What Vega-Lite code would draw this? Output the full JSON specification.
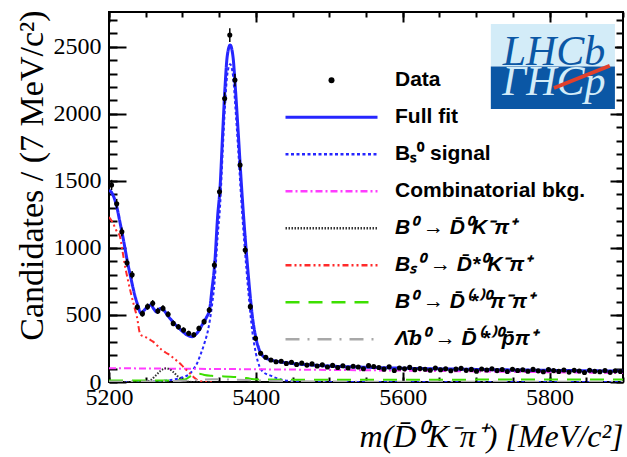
{
 "$schema": "https://vega.github.io/schema/vega-lite/v6.json",
 "width": 514,
 "height": 370,
 "autosize": {"type": "none"},
 "padding": {"left": 109, "top": 12, "right": 4, "bottom": 75},
 "background": "white",
 "config": {
  "view": {"stroke": "#000", "strokeWidth": 2},
  "axis": {"domain": false, "grid": false, "tickColor": "#000", "tickWidth": 2, "labelColor": "#000", "labelFont": "Liberation Serif", "labelFontSize": 24, "titleColor": "#000", "labelFlush": false, "labelOverlap": false, "zindex": 1}
 },
 "resolve": {"axis": {"x": "independent", "y": "independent"}},
 "datasets": {
  "pts": [
   {"m":5203.5,"n":1470,"e":38},{"m":5210.5,"n":1330,"e":36},{"m":5217.5,"n":1120,"e":33},{"m":5224.5,"n":890,"e":30},{"m":5231.5,"n":800,"e":28},
   {"m":5238.5,"n":560,"e":24},{"m":5245.5,"n":510,"e":23},{"m":5252.5,"n":562,"e":24},{"m":5259.5,"n":587,"e":24},{"m":5266.5,"n":530,"e":23},
   {"m":5273.5,"n":549,"e":23},{"m":5280.5,"n":505,"e":22},{"m":5287.5,"n":437,"e":21},{"m":5294.5,"n":412,"e":20},{"m":5301.5,"n":388,"e":20},
   {"m":5308.5,"n":363,"e":19},{"m":5315.5,"n":352,"e":19},{"m":5322.5,"n":400,"e":20},{"m":5329.5,"n":450,"e":21},{"m":5336.5,"n":537,"e":23},
   {"m":5343.5,"n":872,"e":30},{"m":5350.5,"n":1419,"e":38},{"m":5357.5,"n":2115,"e":46},{"m":5364.5,"n":2588,"e":51},{"m":5371.5,"n":2252,"e":47},
   {"m":5378.5,"n":1618,"e":40},{"m":5385.5,"n":984,"e":31},{"m":5392.5,"n":562,"e":24},{"m":5399.5,"n":326,"e":18},{"m":5406.5,"n":214,"e":15},
   {"m":5413.5,"n":185,"e":14},{"m":5420.5,"n":164,"e":13},{"m":5427.5,"n":151,"e":12},{"m":5434.5,"n":155,"e":12},{"m":5441.5,"n":138,"e":12},
   {"m":5448.5,"n":147,"e":12},{"m":5455.5,"n":130,"e":11},{"m":5462.5,"n":141,"e":12},{"m":5469.5,"n":126,"e":11},{"m":5476.5,"n":135,"e":12},
   {"m":5483.5,"n":119,"e":11},{"m":5490.5,"n":128,"e":11},{"m":5497.5,"n":112,"e":11},{"m":5504.5,"n":124,"e":11},{"m":5511.5,"n":108,"e":10},
   {"m":5518.5,"n":121,"e":11},{"m":5525.5,"n":104,"e":10},{"m":5532.5,"n":118,"e":11},{"m":5539.5,"n":112,"e":11},{"m":5546.5,"n":99,"e":10},
   {"m":5553.5,"n":122,"e":11},{"m":5560.5,"n":115,"e":11},{"m":5567.5,"n":108,"e":10},{"m":5574.5,"n":96,"e":10},{"m":5581.5,"n":113,"e":11},
   {"m":5588.5,"n":86,"e":9},{"m":5595.5,"n":104,"e":10},{"m":5602.5,"n":98,"e":10},{"m":5609.5,"n":109,"e":10},{"m":5616.5,"n":92,"e":10},
   {"m":5623.5,"n":101,"e":10},{"m":5630.5,"n":95,"e":10},{"m":5637.5,"n":88,"e":9},{"m":5644.5,"n":104,"e":10},{"m":5651.5,"n":91,"e":10},
   {"m":5658.5,"n":99,"e":10},{"m":5665.5,"n":84,"e":9},{"m":5672.5,"n":96,"e":10},{"m":5679.5,"n":102,"e":10},{"m":5686.5,"n":87,"e":9},
   {"m":5693.5,"n":94,"e":10},{"m":5700.5,"n":81,"e":9},{"m":5707.5,"n":97,"e":10},{"m":5714.5,"n":90,"e":9},{"m":5721.5,"n":99,"e":10},
   {"m":5728.5,"n":85,"e":9},{"m":5735.5,"n":93,"e":10},{"m":5742.5,"n":78,"e":9},{"m":5749.5,"n":95,"e":10},{"m":5756.5,"n":86,"e":9},
   {"m":5763.5,"n":91,"e":10},{"m":5770.5,"n":80,"e":9},{"m":5777.5,"n":94,"e":10},{"m":5784.5,"n":83,"e":9},{"m":5791.5,"n":76,"e":9},
   {"m":5798.5,"n":92,"e":10},{"m":5805.5,"n":85,"e":9},{"m":5812.5,"n":79,"e":9},{"m":5819.5,"n":90,"e":9},{"m":5826.5,"n":74,"e":9},
   {"m":5833.5,"n":87,"e":9},{"m":5840.5,"n":82,"e":9},{"m":5847.5,"n":71,"e":8},{"m":5854.5,"n":88,"e":9},{"m":5861.5,"n":80,"e":9},
   {"m":5868.5,"n":76,"e":9},{"m":5875.5,"n":85,"e":9},{"m":5882.5,"n":72,"e":8},{"m":5889.5,"n":83,"e":9},{"m":5896.5,"n":78,"e":9}
  ],
  "curves": [
   {"c":"Full fit","m":5200,"n":1430},{"c":"Full fit","m":5204,"n":1410},{"c":"Full fit","m":5210,"n":1320},{"c":"Full fit","m":5215,"n":1190},{"c":"Full fit","m":5220,"n":1050},
   {"c":"Full fit","m":5225,"n":900},{"c":"Full fit","m":5230,"n":770},{"c":"Full fit","m":5235,"n":650},{"c":"Full fit","m":5240,"n":560},{"c":"Full fit","m":5243,"n":515},
   {"c":"Full fit","m":5247,"n":530},{"c":"Full fit","m":5252,"n":560},{"c":"Full fit","m":5257,"n":575},{"c":"Full fit","m":5261,"n":545},{"c":"Full fit","m":5265,"n":522},
   {"c":"Full fit","m":5270,"n":548},{"c":"Full fit","m":5274,"n":540},{"c":"Full fit","m":5280,"n":495},{"c":"Full fit","m":5285,"n":462},{"c":"Full fit","m":5290,"n":430},
   {"c":"Full fit","m":5295,"n":402},{"c":"Full fit","m":5300,"n":378},{"c":"Full fit","m":5305,"n":355},{"c":"Full fit","m":5310,"n":341},{"c":"Full fit","m":5313,"n":338},
   {"c":"Full fit","m":5317,"n":350},{"c":"Full fit","m":5322,"n":380},{"c":"Full fit","m":5328,"n":437},{"c":"Full fit","m":5333,"n":485},{"c":"Full fit","m":5337,"n":540},
   {"c":"Full fit","m":5340,"n":680},{"c":"Full fit","m":5344,"n":885},{"c":"Full fit","m":5348,"n":1240},{"c":"Full fit","m":5351,"n":1430},{"c":"Full fit","m":5355,"n":1880},
   {"c":"Full fit","m":5358,"n":2200},{"c":"Full fit","m":5361,"n":2430},{"c":"Full fit","m":5365,"n":2513},{"c":"Full fit","m":5369,"n":2420},{"c":"Full fit","m":5372,"n":2200},
   {"c":"Full fit","m":5376,"n":1860},{"c":"Full fit","m":5380,"n":1500},{"c":"Full fit","m":5385,"n":1110},{"c":"Full fit","m":5390,"n":780},{"c":"Full fit","m":5395,"n":500},
   {"c":"Full fit","m":5400,"n":330},{"c":"Full fit","m":5405,"n":235},{"c":"Full fit","m":5410,"n":192},{"c":"Full fit","m":5420,"n":165},{"c":"Full fit","m":5430,"n":153},
   {"c":"Full fit","m":5440,"n":145},{"c":"Full fit","m":5450,"n":138},{"c":"Full fit","m":5475,"n":127},{"c":"Full fit","m":5500,"n":119},{"c":"Full fit","m":5550,"n":110},
   {"c":"Full fit","m":5600,"n":103},{"c":"Full fit","m":5650,"n":98},{"c":"Full fit","m":5700,"n":94},{"c":"Full fit","m":5750,"n":90},{"c":"Full fit","m":5800,"n":87},
   {"c":"Full fit","m":5850,"n":84},{"c":"Full fit","m":5900,"n":81},

   {"c":"Bₛ⁰ signal","m":5200,"n":0},{"c":"Bₛ⁰ signal","m":5240,"n":0},{"c":"Bₛ⁰ signal","m":5260,"n":3},{"c":"Bₛ⁰ signal","m":5280,"n":12},{"c":"Bₛ⁰ signal","m":5290,"n":20},
   {"c":"Bₛ⁰ signal","m":5300,"n":35},{"c":"Bₛ⁰ signal","m":5310,"n":62},{"c":"Bₛ⁰ signal","m":5315,"n":95},{"c":"Bₛ⁰ signal","m":5320,"n":140},{"c":"Bₛ⁰ signal","m":5325,"n":210},
   {"c":"Bₛ⁰ signal","m":5330,"n":290},{"c":"Bₛ⁰ signal","m":5335,"n":390},{"c":"Bₛ⁰ signal","m":5340,"n":560},{"c":"Bₛ⁰ signal","m":5344,"n":760},{"c":"Bₛ⁰ signal","m":5348,"n":1090},
   {"c":"Bₛ⁰ signal","m":5351,"n":1290},{"c":"Bₛ⁰ signal","m":5355,"n":1740},{"c":"Bₛ⁰ signal","m":5358,"n":2060},{"c":"Bₛ⁰ signal","m":5361,"n":2290},{"c":"Bₛ⁰ signal","m":5365,"n":2370},
   {"c":"Bₛ⁰ signal","m":5369,"n":2280},{"c":"Bₛ⁰ signal","m":5372,"n":2060},{"c":"Bₛ⁰ signal","m":5376,"n":1730},{"c":"Bₛ⁰ signal","m":5380,"n":1370},{"c":"Bₛ⁰ signal","m":5385,"n":990},
   {"c":"Bₛ⁰ signal","m":5390,"n":660},{"c":"Bₛ⁰ signal","m":5395,"n":385},{"c":"Bₛ⁰ signal","m":5400,"n":215},{"c":"Bₛ⁰ signal","m":5405,"n":115},{"c":"Bₛ⁰ signal","m":5410,"n":75},
   {"c":"Bₛ⁰ signal","m":5420,"n":48},{"c":"Bₛ⁰ signal","m":5430,"n":25},{"c":"Bₛ⁰ signal","m":5440,"n":12},{"c":"Bₛ⁰ signal","m":5455,"n":4},{"c":"Bₛ⁰ signal","m":5480,"n":0},
   {"c":"Bₛ⁰ signal","m":5900,"n":0},

   {"c":"Combinatorial bkg.","m":5200,"n":103},{"c":"Combinatorial bkg.","m":5300,"n":99},{"c":"Combinatorial bkg.","m":5400,"n":95},{"c":"Combinatorial bkg.","m":5500,"n":90},
   {"c":"Combinatorial bkg.","m":5600,"n":85},{"c":"Combinatorial bkg.","m":5700,"n":79},{"c":"Combinatorial bkg.","m":5800,"n":73},{"c":"Combinatorial bkg.","m":5900,"n":67},

   {"c":"B⁰ → D̄⁰K⁻π⁺","m":5200,"n":0},{"c":"B⁰ → D̄⁰K⁻π⁺","m":5240,"n":0},{"c":"B⁰ → D̄⁰K⁻π⁺","m":5250,"n":4},{"c":"B⁰ → D̄⁰K⁻π⁺","m":5257,"n":15},
   {"c":"B⁰ → D̄⁰K⁻π⁺","m":5263,"n":45},{"c":"B⁰ → D̄⁰K⁻π⁺","m":5270,"n":82},{"c":"B⁰ → D̄⁰K⁻π⁺","m":5278,"n":102},{"c":"B⁰ → D̄⁰K⁻π⁺","m":5286,"n":82},
   {"c":"B⁰ → D̄⁰K⁻π⁺","m":5293,"n":45},{"c":"B⁰ → D̄⁰K⁻π⁺","m":5300,"n":15},{"c":"B⁰ → D̄⁰K⁻π⁺","m":5307,"n":4},{"c":"B⁰ → D̄⁰K⁻π⁺","m":5315,"n":0},{"c":"B⁰ → D̄⁰K⁻π⁺","m":5340,"n":0},

   {"c":"Bₛ⁰ → D̄*⁰K⁻π⁺","m":5200,"n":1230},{"c":"Bₛ⁰ → D̄*⁰K⁻π⁺","m":5205,"n":1190},{"c":"Bₛ⁰ → D̄*⁰K⁻π⁺","m":5210,"n":1130},{"c":"Bₛ⁰ → D̄*⁰K⁻π⁺","m":5215,"n":1084},
   {"c":"Bₛ⁰ → D̄*⁰K⁻π⁺","m":5218,"n":990},{"c":"Bₛ⁰ → D̄*⁰K⁻π⁺","m":5222,"n":860},{"c":"Bₛ⁰ → D̄*⁰K⁻π⁺","m":5226,"n":755},{"c":"Bₛ⁰ → D̄*⁰K⁻π⁺","m":5231,"n":636},
   {"c":"Bₛ⁰ → D̄*⁰K⁻π⁺","m":5235,"n":550},{"c":"Bₛ⁰ → D̄*⁰K⁻π⁺","m":5238,"n":487},{"c":"Bₛ⁰ → D̄*⁰K⁻π⁺","m":5242,"n":365},{"c":"Bₛ⁰ → D̄*⁰K⁻π⁺","m":5245,"n":345},
   {"c":"Bₛ⁰ → D̄*⁰K⁻π⁺","m":5249,"n":338},{"c":"Bₛ⁰ → D̄*⁰K⁻π⁺","m":5255,"n":318},{"c":"Bₛ⁰ → D̄*⁰K⁻π⁺","m":5260,"n":301},{"c":"Bₛ⁰ → D̄*⁰K⁻π⁺","m":5266,"n":270},
   {"c":"Bₛ⁰ → D̄*⁰K⁻π⁺","m":5272,"n":239},{"c":"Bₛ⁰ → D̄*⁰K⁻π⁺","m":5277,"n":220},{"c":"Bₛ⁰ → D̄*⁰K⁻π⁺","m":5283,"n":201},{"c":"Bₛ⁰ → D̄*⁰K⁻π⁺","m":5288,"n":178},
   {"c":"Bₛ⁰ → D̄*⁰K⁻π⁺","m":5294,"n":151},{"c":"Bₛ⁰ → D̄*⁰K⁻π⁺","m":5299,"n":126},{"c":"Bₛ⁰ → D̄*⁰K⁻π⁺","m":5303,"n":102},{"c":"Bₛ⁰ → D̄*⁰K⁻π⁺","m":5307,"n":82},
   {"c":"Bₛ⁰ → D̄*⁰K⁻π⁺","m":5310,"n":65},{"c":"Bₛ⁰ → D̄*⁰K⁻π⁺","m":5315,"n":38},{"c":"Bₛ⁰ → D̄*⁰K⁻π⁺","m":5320,"n":16},{"c":"Bₛ⁰ → D̄*⁰K⁻π⁺","m":5325,"n":6},
   {"c":"Bₛ⁰ → D̄*⁰K⁻π⁺","m":5330,"n":1},{"c":"Bₛ⁰ → D̄*⁰K⁻π⁺","m":5340,"n":0},

   {"c":"B⁰ → D̄⁽*⁾⁰π⁻π⁺","m":5200,"n":12},{"c":"B⁰ → D̄⁽*⁾⁰π⁻π⁺","m":5290,"n":12},{"c":"B⁰ → D̄⁽*⁾⁰π⁻π⁺","m":5303,"n":18},{"c":"B⁰ → D̄⁽*⁾⁰π⁻π⁺","m":5310,"n":40},
   {"c":"B⁰ → D̄⁽*⁾⁰π⁻π⁺","m":5316,"n":60},{"c":"B⁰ → D̄⁽*⁾⁰π⁻π⁺","m":5323,"n":62},{"c":"B⁰ → D̄⁽*⁾⁰π⁻π⁺","m":5330,"n":52},{"c":"B⁰ → D̄⁽*⁾⁰π⁻π⁺","m":5340,"n":46},
   {"c":"B⁰ → D̄⁽*⁾⁰π⁻π⁺","m":5350,"n":43},{"c":"B⁰ → D̄⁽*⁾⁰π⁻π⁺","m":5365,"n":40},{"c":"B⁰ → D̄⁽*⁾⁰π⁻π⁺","m":5380,"n":34},{"c":"B⁰ → D̄⁽*⁾⁰π⁻π⁺","m":5392,"n":25},
   {"c":"B⁰ → D̄⁽*⁾⁰π⁻π⁺","m":5400,"n":20},{"c":"B⁰ → D̄⁽*⁾⁰π⁻π⁺","m":5450,"n":17},{"c":"B⁰ → D̄⁽*⁾⁰π⁻π⁺","m":5600,"n":17},{"c":"B⁰ → D̄⁽*⁾⁰π⁻π⁺","m":5750,"n":18},
   {"c":"B⁰ → D̄⁽*⁾⁰π⁻π⁺","m":5900,"n":18},

   {"c":"Λ̄b⁰ → D̄⁽*⁾⁰p̄π⁺","m":5200,"n":3},{"c":"Λ̄b⁰ → D̄⁽*⁾⁰p̄π⁺","m":5280,"n":5},{"c":"Λ̄b⁰ → D̄⁽*⁾⁰p̄π⁺","m":5310,"n":12},{"c":"Λ̄b⁰ → D̄⁽*⁾⁰p̄π⁺","m":5340,"n":20},
   {"c":"Λ̄b⁰ → D̄⁽*⁾⁰p̄π⁺","m":5370,"n":18},{"c":"Λ̄b⁰ → D̄⁽*⁾⁰p̄π⁺","m":5400,"n":12},{"c":"Λ̄b⁰ → D̄⁽*⁾⁰p̄π⁺","m":5450,"n":6},{"c":"Λ̄b⁰ → D̄⁽*⁾⁰p̄π⁺","m":5500,"n":3},
   {"c":"Λ̄b⁰ → D̄⁽*⁾⁰p̄π⁺","m":5900,"n":1}
  ],
  "logo": [{}]
 },
 "layer": [
  {
   "data": {"name": "curves"},
   "transform": [{"filter": "datum.c !== 'Full fit'"}],
   "mark": {"type": "line", "interpolate": "monotone", "strokeWidth": 2, "clip": true},
   "encoding": {
    "x": {"field": "m", "type": "quantitative", "scale": {"domain": [5200, 5900], "nice": false, "zero": false},
          "axis": {"orient": "bottom", "values": [5200, 5400, 5600, 5800], "ticks": false, "labelPadding": 3, "format": "d",
                   "title": "m(D̄⁰K⁻π⁺) [MeV/c²]", "titleFont": "Liberation Serif", "titleFontSize": 32, "titleFontWeight": "normal", "titleFontStyle": "italic",
                   "titleAlign": "right", "titleBaseline": "alphabetic", "titleAnchor": "end", "titleX": 514, "titleY": 64}},
    "y": {"field": "n", "type": "quantitative", "scale": {"domain": [0, 2760], "nice": false},
          "axis": {"orient": "left", "values": [0, 500, 1000, 1500, 2000, 2500], "ticks": false, "labelPadding": 8, "format": "d",
                   "title": "Candidates / (7 MeV/c²)", "titleFont": "Liberation Serif", "titleFontSize": 34, "titleFontWeight": "normal",
                   "titleAngle": -90, "titleAlign": "right", "titleBaseline": "alphabetic", "titleX": -67, "titleY": -2}},
    "color": {"field": "c", "type": "nominal",
              "scale": {"domain": ["Data", "Full fit", "Bₛ⁰ signal", "Combinatorial bkg.", "B⁰ → D̄⁰K⁻π⁺", "Bₛ⁰ → D̄*⁰K⁻π⁺", "B⁰ → D̄⁽*⁾⁰π⁻π⁺", "Λ̄b⁰ → D̄⁽*⁾⁰p̄π⁺"],
                        "range": ["#000000", "#2626ff", "#2626ff", "#ff3cff", "#333333", "#ff2a2a", "#3ddf00", "#a8a8a8"]},
              "legend": {"title": null, "orient": "none", "legendX": 176, "legendY": 50, "padding": 0, "symbolType": "stroke", "symbolSize": 8464, "symbolStrokeWidth": 2.5, "symbolOffset": 36,
                         "clipHeight": 36.7, "rowPadding": 0, "labelOffset": 53, "labelLimit": 400, "labelFont": "Liberation Sans", "labelFontSize": 21, "labelFontWeight": "bold", "labelColor": "#000",
                         "encode": {"symbols": {"update": {"strokeDashOffset": {"signal": "datum.value === 'Data' ? -46 : 0"}, "strokeWidth": {"signal": "datum.value === 'Data' ? 6 : (datum.value === 'Full fit' ? 3 : 2.5)"}, "strokeCap": {"signal": "datum.value === 'Data' ? 'round' : 'butt'"}}},
                                    "labels": {"update": {"fontStyle": {"signal": "datum.index >= 4 ? 'italic' : 'normal'"}}}}}},
    "strokeDash": {"field": "c", "type": "nominal",
              "scale": {"domain": ["Data", "Full fit", "Bₛ⁰ signal", "Combinatorial bkg.", "B⁰ → D̄⁰K⁻π⁺", "Bₛ⁰ → D̄*⁰K⁻π⁺", "B⁰ → D̄⁽*⁾⁰π⁻π⁺", "Λ̄b⁰ → D̄⁽*⁾⁰p̄π⁺"],
                        "range": [[0, 1000], [1, 0], [3, 2.5], [7, 3, 2, 3], [1.5, 1.5], [6, 3, 2, 3, 2, 3], [14, 9], [14, 8, 2, 8]]},
              "legend": {"title": null, "orient": "none", "legendX": 176, "legendY": 50, "padding": 0, "symbolType": "stroke", "symbolSize": 8464, "symbolStrokeWidth": 2.5, "symbolOffset": 36,
                         "clipHeight": 36.7, "rowPadding": 0, "labelOffset": 53, "labelLimit": 400, "labelFont": "Liberation Sans", "labelFontSize": 21, "labelFontWeight": "bold", "labelColor": "#000",
                         "encode": {"symbols": {"update": {"strokeDashOffset": {"signal": "datum.value === 'Data' ? -46 : 0"}, "strokeWidth": {"signal": "datum.value === 'Data' ? 6 : (datum.value === 'Full fit' ? 3 : 2.5)"}, "strokeCap": {"signal": "datum.value === 'Data' ? 'round' : 'butt'"}}},
                                    "labels": {"update": {"fontStyle": {"signal": "datum.index >= 4 ? 'italic' : 'normal'"}}}}}}
   }
  },
  {
   "data": {"name": "curves"},
   "transform": [{"filter": "datum.c === 'Full fit'"}],
   "mark": {"type": "line", "interpolate": "monotone", "strokeWidth": 3, "clip": true},
   "encoding": {
    "x": {"field": "m", "type": "quantitative", "scale": {"domain": [5200, 5900], "nice": false, "zero": false},
          "axis": {"orient": "bottom", "values": [5200, 5400, 5600, 5800], "labels": false, "tickSize": -10, "title": null}},
    "y": {"field": "n", "type": "quantitative", "scale": {"domain": [0, 2760], "nice": false},
          "axis": {"orient": "left", "values": [0, 500, 1000, 1500, 2000, 2500], "labels": false, "tickSize": -17, "title": null}},
    "color": {"field": "c", "type": "nominal",
              "scale": {"domain": ["Data", "Full fit", "Bₛ⁰ signal", "Combinatorial bkg.", "B⁰ → D̄⁰K⁻π⁺", "Bₛ⁰ → D̄*⁰K⁻π⁺", "B⁰ → D̄⁽*⁾⁰π⁻π⁺", "Λ̄b⁰ → D̄⁽*⁾⁰p̄π⁺"],
                        "range": ["#000000", "#2626ff", "#2626ff", "#ff3cff", "#333333", "#ff2a2a", "#3ddf00", "#a8a8a8"]},
              "legend": {"title": null, "orient": "none", "legendX": 176, "legendY": 50, "padding": 0, "symbolType": "stroke", "symbolSize": 8464, "symbolStrokeWidth": 2.5, "symbolOffset": 36,
                         "clipHeight": 36.7, "rowPadding": 0, "labelOffset": 53, "labelLimit": 400, "labelFont": "Liberation Sans", "labelFontSize": 21, "labelFontWeight": "bold", "labelColor": "#000",
                         "encode": {"symbols": {"update": {"strokeDashOffset": {"signal": "datum.value === 'Data' ? -46 : 0"}, "strokeWidth": {"signal": "datum.value === 'Data' ? 6 : (datum.value === 'Full fit' ? 3 : 2.5)"}, "strokeCap": {"signal": "datum.value === 'Data' ? 'round' : 'butt'"}}},
                                    "labels": {"update": {"fontStyle": {"signal": "datum.index >= 4 ? 'italic' : 'normal'"}}}}}},
    "strokeDash": {"field": "c", "type": "nominal",
              "scale": {"domain": ["Data", "Full fit", "Bₛ⁰ signal", "Combinatorial bkg.", "B⁰ → D̄⁰K⁻π⁺", "Bₛ⁰ → D̄*⁰K⁻π⁺", "B⁰ → D̄⁽*⁾⁰π⁻π⁺", "Λ̄b⁰ → D̄⁽*⁾⁰p̄π⁺"],
                        "range": [[0, 1000], [1, 0], [3, 2.5], [7, 3, 2, 3], [1.5, 1.5], [6, 3, 2, 3, 2, 3], [14, 9], [14, 8, 2, 8]]},
              "legend": {"title": null, "orient": "none", "legendX": 176, "legendY": 50, "padding": 0, "symbolType": "stroke", "symbolSize": 8464, "symbolStrokeWidth": 2.5, "symbolOffset": 36,
                         "clipHeight": 36.7, "rowPadding": 0, "labelOffset": 53, "labelLimit": 400, "labelFont": "Liberation Sans", "labelFontSize": 21, "labelFontWeight": "bold", "labelColor": "#000",
                         "encode": {"symbols": {"update": {"strokeDashOffset": {"signal": "datum.value === 'Data' ? -46 : 0"}, "strokeWidth": {"signal": "datum.value === 'Data' ? 6 : (datum.value === 'Full fit' ? 3 : 2.5)"}, "strokeCap": {"signal": "datum.value === 'Data' ? 'round' : 'butt'"}}},
                                    "labels": {"update": {"fontStyle": {"signal": "datum.index >= 4 ? 'italic' : 'normal'"}}}}}}
   }
  },
  {
   "data": {"name": "pts"},
   "mark": {"type": "errorbar", "color": "#000", "thickness": 1.5},
   "encoding": {
    "x": {"field": "m", "type": "quantitative", "scale": {"domain": [5200, 5900], "nice": false, "zero": false}, "axis": null},
    "y": {"field": "n", "type": "quantitative", "scale": {"domain": [0, 2760], "nice": false}, "axis": null},
    "yError": {"field": "e"}
   }
  },
  {
   "data": {"name": "pts"},
   "mark": {"type": "circle", "size": 26, "color": "#000", "opacity": 1},
   "encoding": {
    "x": {"field": "m", "type": "quantitative", "scale": {"domain": [5200, 5900], "nice": false, "zero": false},
          "axis": {"orient": "bottom", "values": [5200, 5250, 5300, 5350, 5400, 5450, 5500, 5550, 5600, 5650, 5700, 5750, 5800, 5850, 5900], "labels": false, "tickSize": -5, "title": null}},
    "y": {"field": "n", "type": "quantitative", "scale": {"domain": [0, 2760], "nice": false},
          "axis": {"orient": "left", "values": [0, 100, 200, 300, 400, 500, 600, 700, 800, 900, 1000, 1100, 1200, 1300, 1400, 1500, 1600, 1700, 1800, 1900, 2000, 2100, 2200, 2300, 2400, 2500, 2600, 2700], "labels": false, "tickSize": -8, "title": null}}
   }
  },
  {
   "data": {"name": "logo"},
   "mark": {"type": "rect", "color": "#d3ecf8"},
   "encoding": {
    "x": {"datum": 5720, "type": "quantitative", "scale": {"domain": [5200, 5900], "nice": false, "zero": false},
          "axis": {"orient": "top", "values": [5200, 5400, 5600, 5800], "labels": false, "tickSize": -10, "title": null}},
    "x2": {"datum": 5889},
    "y": {"datum": 2670, "type": "quantitative", "scale": {"domain": [0, 2760], "nice": false},
          "axis": {"orient": "right", "values": [0, 500, 1000, 1500, 2000, 2500], "labels": false, "tickSize": -13, "title": null}},
    "y2": {"datum": 2353}
   }
  },
  {
   "data": {"name": "logo"},
   "mark": {"type": "rect", "color": "#0b57a5"},
   "encoding": {
    "x": {"datum": 5720, "type": "quantitative", "scale": {"domain": [5200, 5900], "nice": false, "zero": false},
          "axis": {"orient": "top", "values": [5200, 5250, 5300, 5350, 5400, 5450, 5500, 5550, 5600, 5650, 5700, 5750, 5800, 5850, 5900], "labels": false, "tickSize": -5, "title": null}},
    "x2": {"datum": 5889},
    "y": {"datum": 2353, "type": "quantitative", "scale": {"domain": [0, 2760], "nice": false},
          "axis": {"orient": "right", "values": [0, 100, 200, 300, 400, 500, 600, 700, 800, 900, 1000, 1100, 1200, 1300, 1400, 1500, 1600, 1700, 1800, 1900, 2000, 2100, 2200, 2300, 2400, 2500, 2600, 2700], "labels": false, "tickSize": -7, "title": null}},
    "y2": {"datum": 2036}
   }
  },
  {
   "data": {"name": "logo"},
   "mark": {"type": "text", "text": "LHCb", "font": "Liberation Serif", "fontStyle": "italic", "fontSize": 42, "color": "#0b57a5", "align": "center", "baseline": "alphabetic"},
   "encoding": {
    "x": {"datum": 5806, "type": "quantitative", "scale": {"domain": [5200, 5900], "nice": false, "zero": false}, "axis": null},
    "y": {"datum": 2362, "type": "quantitative", "scale": {"domain": [0, 2760], "nice": false}, "axis": null}
   }
  },
  {
   "data": {"name": "logo"},
   "mark": {"type": "text", "text": "ΓHCp", "font": "Liberation Serif", "fontStyle": "italic", "fontSize": 42, "color": "#d3ecf8", "align": "center", "baseline": "alphabetic"},
   "encoding": {
    "x": {"datum": 5806, "type": "quantitative", "scale": {"domain": [5200, 5900], "nice": false, "zero": false}, "axis": null},
    "y": {"datum": 2140, "type": "quantitative", "scale": {"domain": [0, 2760], "nice": false}, "axis": null}
   }
  },
  {
   "data": {"name": "logo"},
   "mark": {"type": "rule", "color": "#e2402c", "strokeWidth": 4},
   "encoding": {
    "x": {"datum": 5806, "type": "quantitative", "scale": {"domain": [5200, 5900], "nice": false, "zero": false}, "axis": null},
    "y": {"datum": 2193, "type": "quantitative", "scale": {"domain": [0, 2760], "nice": false}, "axis": null},
    "x2": {"datum": 5882},
    "y2": {"datum": 2359}
   }
  }
 ]
}
